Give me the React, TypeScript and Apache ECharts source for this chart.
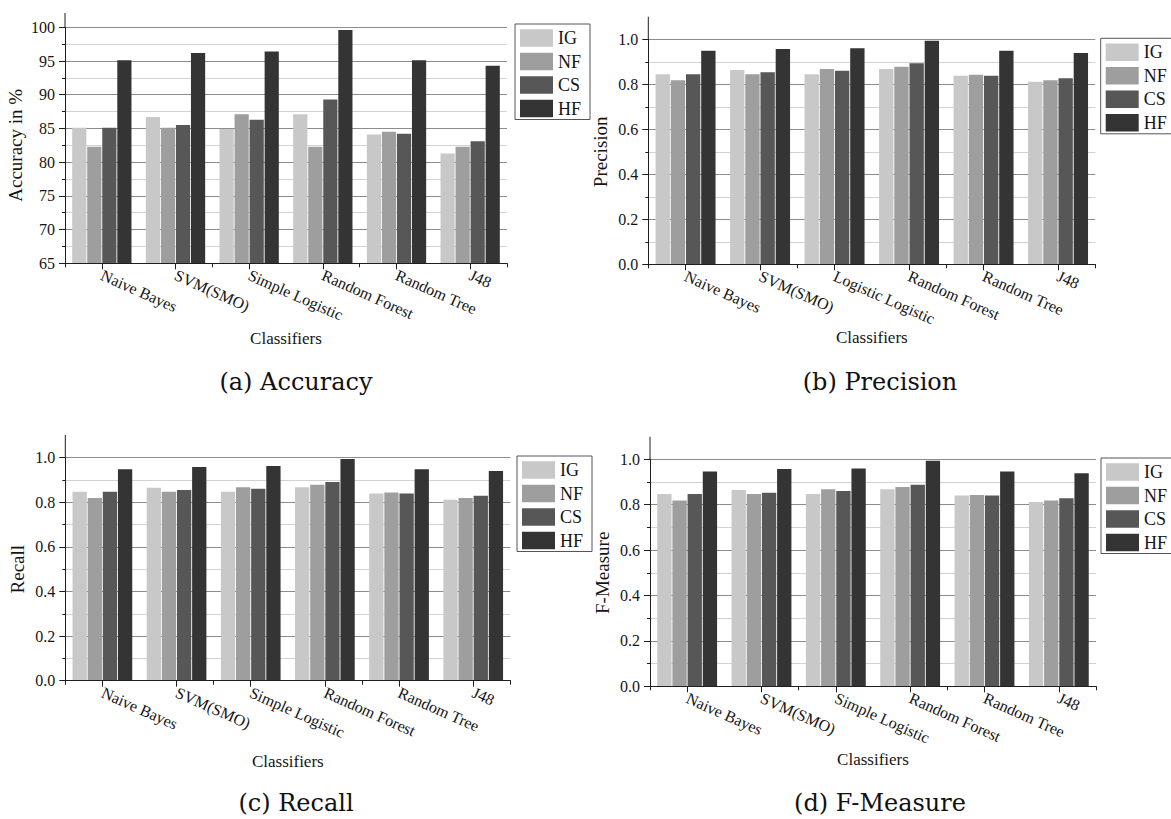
import React, { useEffect, useRef } from "react";
import * as echarts from "echarts";

const FONT = "Liberation Serif";
const CAPTION_FONT = "DejaVu Serif";

const seriesNames = ["IG", "NF", "CS", "HF"];
const seriesColors = ["#c8c8c8", "#9e9e9e", "#575757", "#343434"];

const categoriesMain = ["Naive Bayes", "SVM(SMO)", "Simple Logistic", "Random Forest", "Random Tree", "J48"];
const categoriesPrecision = ["Naive Bayes", "SVM(SMO)", "Logistic Logistic", "Random Forest", "Random Tree", "J48"];

// (a) Accuracy in %
const accuracyIG = [85.1, 86.7, 84.9, 87.1, 84.1, 81.3];
const accuracyNF = [82.3, 85.1, 87.1, 82.3, 84.5, 82.3];
const accuracyCS = [85.1, 85.5, 86.3, 89.3, 84.2, 83.1];
const accuracyHF = [95.1, 96.2, 96.4, 99.6, 95.1, 94.3];

// (b) Precision
const precisionIG = [0.845, 0.863, 0.845, 0.868, 0.838, 0.811];
const precisionNF = [0.818, 0.845, 0.868, 0.878, 0.842, 0.818];
const precisionCS = [0.845, 0.854, 0.86, 0.894, 0.838, 0.827];
const precisionHF = [0.949, 0.957, 0.96, 0.993, 0.949, 0.939];

// (c) Recall
const recallIG = [0.847, 0.865, 0.847, 0.868, 0.84, 0.811];
const recallNF = [0.819, 0.847, 0.868, 0.879, 0.844, 0.819];
const recallCS = [0.847, 0.855, 0.861, 0.891, 0.84, 0.829];
const recallHF = [0.948, 0.958, 0.963, 0.994, 0.948, 0.94];

// (d) F-Measure
const fmeasureIG = [0.847, 0.865, 0.847, 0.868, 0.84, 0.812];
const fmeasureNF = [0.818, 0.847, 0.868, 0.878, 0.843, 0.818];
const fmeasureCS = [0.847, 0.853, 0.86, 0.888, 0.84, 0.828];
const fmeasureHF = [0.946, 0.957, 0.96, 0.994, 0.946, 0.938];

const yTitles = ["Accuracy in %", "Precision", "Recall", "F-Measure"];
const captions = ["(a) Accuracy", "(b) Precision", "(c) Recall", "(d) F-Measure"];

const panels = [
  {
    cats: categoriesMain,
    data: [accuracyIG, accuracyNF, accuracyCS, accuracyHF],
    min: 65, max: 100, interval: 5, decimals: 0,
    grid: { left: 65, top: 27.3, width: 442, height: 236 },
    axisTop: 13,
    legend: { left: 515, top: 24 },
    nameGapX: 67, nameGapY: 40,
    caption: { x: 296, y: 382 },
  },
  {
    cats: categoriesPrecision,
    data: [precisionIG, precisionNF, precisionCS, precisionHF],
    min: 0, max: 1, interval: 0.2, decimals: 1,
    grid: { left: 648.3, top: 39.3, width: 447, height: 225 },
    axisTop: 16.7,
    legend: { left: 1100.7, top: 38.3 },
    nameGapX: 65, nameGapY: 38,
    caption: { x: 880, y: 382 },
  },
  {
    cats: categoriesMain,
    data: [recallIG, recallNF, recallCS, recallHF],
    min: 0, max: 1, interval: 0.2, decimals: 1,
    grid: { left: 65.3, top: 457.7, width: 445, height: 223 },
    axisTop: 435,
    legend: { left: 517, top: 456 },
    nameGapX: 72, nameGapY: 38,
    caption: { x: 296, y: 803 },
  },
  {
    cats: categoriesMain,
    data: [fmeasureIG, fmeasureNF, fmeasureCS, fmeasureHF],
    min: 0, max: 1, interval: 0.2, decimals: 1,
    grid: { left: 650, top: 459.3, width: 446, height: 227 },
    axisTop: 436.7,
    legend: { left: 1101, top: 458 },
    nameGapX: 65, nameGapY: 38,
    caption: { x: 880, y: 803 },
  },
];

function buildOption() {
  const grid: any[] = [];
  const xAxis: any[] = [];
  const yAxis: any[] = [];
  const series: any[] = [];
  const legend: any[] = [];
  const graphic: any[] = [];

  panels.forEach((p, i) => {
    grid.push({ ...p.grid, containLabel: false });
    xAxis.push({
      type: "category",
      gridIndex: i,
      data: p.cats,
      axisLine: { show: true, lineStyle: { color: "#1e1e1e", width: 1 } },
      axisTick: { show: true, alignWithLabel: true, length: 6, lineStyle: { color: "#1e1e1e" } },
      axisLabel: {
        interval: 0,
        rotate: -24,
        margin: 11,
        fontSize: 16,
        fontFamily: FONT,
        color: "#151515",
      },
      splitLine: { show: false },
      name: "Classifiers",
      nameLocation: "middle",
      nameGap: p.nameGapX,
      nameTextStyle: { fontSize: 17, fontFamily: FONT, color: "#151515" },
      z: 3,
    });
    xAxis.push({
      type: "category",
      gridIndex: i,
      data: p.cats,
      position: "bottom",
      axisLine: { show: false },
      axisTick: { show: true, alignWithLabel: false, length: 4, lineStyle: { color: "#1e1e1e" } },
      axisLabel: { show: false },
      splitLine: { show: false },
    });
    yAxis.push({
      type: "value",
      gridIndex: i,
      min: p.min,
      max: p.max,
      interval: p.interval,
      axisLine: { show: true, lineStyle: { color: "#1e1e1e", width: 1 } },
      axisTick: { show: true, length: 6, lineStyle: { color: "#1e1e1e" } },
      minorTick: { show: true, splitNumber: 2, length: 3, lineStyle: { color: "#1e1e1e" } },
      splitLine: { show: true, lineStyle: { color: "#8c8c8c", width: 1 } },
      minorSplitLine: { show: true, lineStyle: { color: "#d2d2d2", width: 1 } },
      axisLabel: {
        margin: 10,
        fontSize: 16,
        fontFamily: FONT,
        color: "#151515",
        formatter: (v: number) => v.toFixed(p.decimals),
      },
      name: yTitles[i],
      nameLocation: "middle",
      nameGap: p.nameGapY,
      nameTextStyle: { fontSize: 19, fontFamily: FONT, color: "#151515" },
    });
    seriesNames.forEach((name, k) => {
      series.push({
        type: "bar",
        name,
        xAxisIndex: i * 2,
        yAxisIndex: i,
        data: p.data[k],
        barGap: "6%",
        barCategoryGap: "19.5%",
        itemStyle: { color: seriesColors[k] },
        z: 2,
      });
    });
    legend.push({
      orient: "vertical",
      left: p.legend.left,
      top: p.legend.top,
      data: seriesNames,
      icon: "rect",
      itemWidth: 33,
      itemHeight: 17.5,
      itemGap: 5.5,
      padding: [5, 9, 2, 5],
      borderColor: "#555555",
      borderWidth: 1,
      backgroundColor: "#ffffff",
      selectedMode: false,
      textStyle: { fontSize: 18, fontFamily: FONT, color: "#151515" },
      z: 10,
    });
    graphic.push({
      type: "line",
      shape: { x1: p.grid.left, y1: p.axisTop, x2: p.grid.left, y2: p.grid.top },
      style: { stroke: "#1e1e1e", lineWidth: 1 },
    });
    graphic.push({
      type: "text",
      x: p.caption.x,
      y: p.caption.y,
      style: {
        text: captions[i],
        fontSize: 24,
        fontFamily: CAPTION_FONT,
        fill: "#111111",
        textAlign: "center",
        textVerticalAlign: "middle",
      },
    });
  });

  return {
    animation: false,
    backgroundColor: "#ffffff",
    grid,
    xAxis,
    yAxis,
    series,
    legend,
    graphic,
  };
}

export default function App() {
  const ref = useRef<HTMLDivElement>(null);
  useEffect(() => {
    if (!ref.current) return;
    const chart = echarts.init(ref.current, undefined, { renderer: "svg" });
    chart.setOption(buildOption() as any);
    return () => chart.dispose();
  }, []);
  return (
    <div
      ref={ref}
      style={{ position: "absolute", left: 0, top: 0, width: 1171, height: 819, background: "#ffffff" }}
    />
  );
}
